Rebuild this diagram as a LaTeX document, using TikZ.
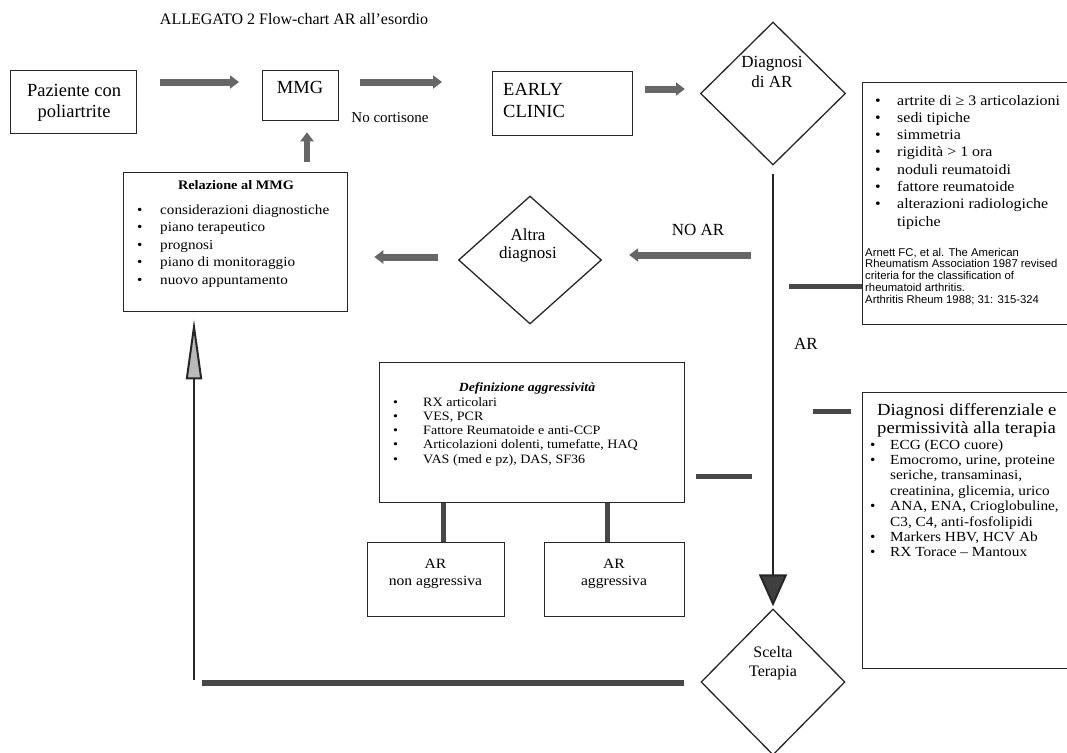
\documentclass[tikz,border=0pt]{standalone}
\usepackage{fontspec}
\setmainfont{Liberation Serif}
\newfontfamily\camb[FakeStretch=1.1]{Liberation Serif}
\newfontfamily\arialf{Liberation Sans}
\usetikzlibrary{arrows.meta,shapes.geometric}
\begin{document}
\begin{tikzpicture}[x=1pt,y=-1pt,
  box/.style={draw=black!85,line width=1.3pt,rectangle,inner sep=0pt,anchor=north west},
  dia/.style={draw=black!85,line width=1.3pt,diamond,inner sep=0pt},
  tx/.style={anchor=base,inner sep=0pt},
  lt/.style={anchor=base west,inner sep=0pt},
  big/.style={font=\fontsize{18.5}{21}\selectfont},
  dtx/.style={font=\fontsize{17}{20}\selectfont},
  blockarr/.style={line width=7pt,draw=black!60,-{Triangle[length=9pt,width=13pt]}},
  bar/.style={line width=5pt,draw=black!72},
  vline/.style={line width=2pt,draw=black!85},
]
\useasboundingbox (0,0) rectangle (1067,752);

% title
\node[tx,font=\fontsize{16}{19}\selectfont] (title) at (294,25) {ALLEGATO 2 Flow-chart AR all'esordio};

% top row
\node[box,minimum width=126pt,minimum height=63pt] (paz) at (10,70) {};
\node[tx,big] (paz1) at (74,96) {Paziente con};
\node[tx,big] (paz2) at (74,117) {poliartrite};

\node[box,minimum width=76pt,minimum height=50pt] (mmg) at (262,70) {};
\node[tx,big] (mmgt) at (300,93) {MMG};

\node[box,minimum width=140pt,minimum height=64pt] (early) at (492,71) {};
\node[lt,big] (early1) at (503,95) {EARLY};
\node[lt,big] (early2) at (503,117) {CLINIC};

\node[dia,minimum width=145pt,minimum height=143pt] (dar) at (773,93.5) {};
\node[tx,dtx] (dar1) at (772,67) {Diagnosi};
\node[tx,dtx] (dar2) at (772,87) {di AR};

\node[tx,font=\fontsize{15}{17}\selectfont] (nocort) at (390,122) {No cortisone};

% criteria box
\node[box,minimum width=210pt,minimum height=242pt] (crit) at (862,82) {};
\foreach \b/\t [count=\i from 0] in {1/{artrite di ≥ 3 articolazioni},1/{sedi tipiche},1/{simmetria},1/{rigidità > 1 ora},1/{noduli reumatoidi},1/{fattore reumatoide},1/{alterazioni radiologiche},0/{tipiche}}{
  \ifnum\b=1 \node[lt,font=\camb\fontsize{14.5}{16}\selectfont] (crb\i) at (875,{105+17.3*\i}) {\textbullet}; \fi
  \node[lt,font=\camb\fontsize{14.5}{16}\selectfont] (crt\i) at (897,{105+17.3*\i}) {\t};
}
\foreach \t [count=\i from 0] in {{Arnett FC, et al. The American},{Rheumatism Association 1987 revised},{criteria for the classification of},{rheumatoid arthritis.},{Arthritis Rheum 1988; 31: 315-324}}{
  \node[lt,font=\arialf\fontsize{11.3}{12}\selectfont] (cit\i) at (865,{256+11.8*\i}) {\t};
}

% Altra diagnosi
\node[dia,minimum width=143pt,minimum height=128pt] (alt) at (530,260) {};
\node[tx,dtx] (alt1) at (528,240) {Altra};
\node[tx,dtx] (alt2) at (528,258) {diagnosi};
\node[tx,dtx] (noar) at (698,235) {NO AR};
\node[tx,dtx] (arlab) at (806,349) {AR};

% Relazione
\node[box,minimum width=224pt,minimum height=139pt] (rel) at (123,172) {};
\node[tx,font=\camb\bfseries\fontsize{13}{15}\selectfont] (relt) at (236,189) {Relazione al MMG};
\foreach \t [count=\i from 0] in {{considerazioni diagnostiche},{piano terapeutico},{prognosi},{piano di monitoraggio},{nuovo appuntamento}}{
  \node[lt,font=\camb\fontsize{13.8}{15}\selectfont] (relb\i) at (137,{214+17.6*\i}) {\textbullet};
  \node[lt,font=\camb\fontsize{13.8}{15}\selectfont] (relx\i) at (160,{214+17.6*\i}) {\t};
}

% Definizione
\node[box,minimum width=305pt,minimum height=140pt] (def) at (379,362) {};
\node[tx,font=\camb\bfseries\itshape\fontsize{12.5}{14}\selectfont] (deft) at (527,391) {Definizione aggressività};
\foreach \t [count=\i from 0] in {{RX articolari},{VES, PCR},{Fattore Reumatoide e anti-CCP},{Articolazioni dolenti, tumefatte, HAQ},{VAS (med e pz), DAS, SF36}}{
  \node[lt,font=\camb\fontsize{12.8}{14}\selectfont] (defb\i) at (393,{406+14.3*\i}) {\textbullet};
  \node[lt,font=\camb\fontsize{12.8}{14}\selectfont] (defx\i) at (423,{406+14.3*\i}) {\t};
}

\node[box,minimum width=137pt,minimum height=74pt] (arn) at (367,542) {};
\node[tx,font=\camb\fontsize{14.2}{16}\selectfont] (arn1) at (435.5,568) {AR};
\node[tx,font=\camb\fontsize{14.2}{16}\selectfont] (arn2) at (435.5,585) {non aggressiva};
\node[box,minimum width=140pt,minimum height=74pt] (arg) at (544,542) {};
\node[tx,font=\camb\fontsize{14.2}{16}\selectfont] (arg1) at (614,568) {AR};
\node[tx,font=\camb\fontsize{14.2}{16}\selectfont] (arg2) at (614,585) {aggressiva};

% Scelta terapia
\node[dia,minimum width=144pt,minimum height=146pt] (sce) at (773,682) {};
\node[tx,font=\fontsize{16}{19}\selectfont] (sce1) at (773,657) {Scelta};
\node[tx,font=\fontsize{16}{19}\selectfont] (sce2) at (773,676) {Terapia};

% Diagnosi differenziale
\node[box,minimum width=210pt,minimum height=276pt] (diff) at (862,392) {};
\node[lt,font=\camb\fontsize{17}{19}\selectfont] (dift1) at (877,415) {Diagnosi differenziale e};
\node[lt,font=\camb\fontsize{17}{19}\selectfont] (dift2) at (877,433) {permissività alla terapia};
\foreach \b/\t [count=\i from 0] in {1/{ECG (ECO cuore)},1/{Emocromo, urine, proteine},0/{seriche, transaminasi,},0/{creatinina, glicemia, urico},1/{ANA, ENA, Crioglobuline,},0/{C3, C4, anti-fosfolipidi},1/{Markers HBV, HCV Ab},1/{RX Torace – Mantoux}}{
  \ifnum\b=1 \node[lt,font=\camb\fontsize{13.9}{15}\selectfont] (difb\i) at (870,{449+15.4*\i}) {\textbullet}; \fi
  \node[lt,font=\camb\fontsize{13.9}{15}\selectfont] (difx\i) at (890,{449+15.4*\i}) {\t};
}

% helper coordinates
\coordinate (r1) at (0,82);
\coordinate (r2) at (0,89);
\coordinate (r3) at (0,255);
\coordinate (r4) at (0,257);
\coordinate (c309) at (307,0);
\coordinate (b1) at (0,286);
\coordinate (b2) at (0,476);
\coordinate (b3) at (0,411);
\coordinate (c443) at (443,0);
\coordinate (c607) at (607,0);
\coordinate (ret) at (194,683);

% connectors
\draw[blockarr,shorten <=23pt,shorten >=23pt] (paz.east |- r1) -- (mmg.west |- r1);
\draw[blockarr,shorten <=21pt,shorten >=50pt] (mmg.east |- r1) -- (early.west |- r1);
\draw[blockarr,shorten <=12pt,shorten >=15pt] (early.east |- r2) -- (dar.west |- r2);
\draw[blockarr,line width=6pt,shorten <=10pt,shorten >=11pt] (rel.north -| c309) -- (mmg.south -| c309);
\draw[vline,-{Triangle[length=32pt,width=28pt,fill=black!75]},shorten <=8pt,shorten >=2pt] (dar.south) -- (sce.north);
\draw[blockarr,shorten <=22pt,shorten >=27pt] (dar.south |- r3) -- (alt.east |- r3);
\draw[blockarr,shorten <=20pt,shorten >=26pt] (alt.west |- r4) -- (rel.east |- r4);
\draw[bar,shorten <=16pt] (dar.south |- b1) -- (crit.west |- b1);
\draw[bar,shorten <=11pt,shorten >=21pt] (def.east |- b2) -- (dar.south |- b2);
\draw[bar,shorten <=40pt,shorten >=11pt] (dar.south |- b3) -- (diff.west |- b3);
\draw[bar] (def.south -| c443) -- (arn.north -| c443);
\draw[bar] (def.south -| c607) -- (arg.north -| c607);
\draw[bar,line width=6pt,shorten <=16pt,shorten >=8pt] (sce.west |- ret) -- (ret);
\draw[vline,-{Triangle[length=60pt,width=16pt,fill=gray!55]},shorten <=3pt,shorten >=7pt] (ret) -- (ret |- rel.south);
\end{tikzpicture}
\end{document}
